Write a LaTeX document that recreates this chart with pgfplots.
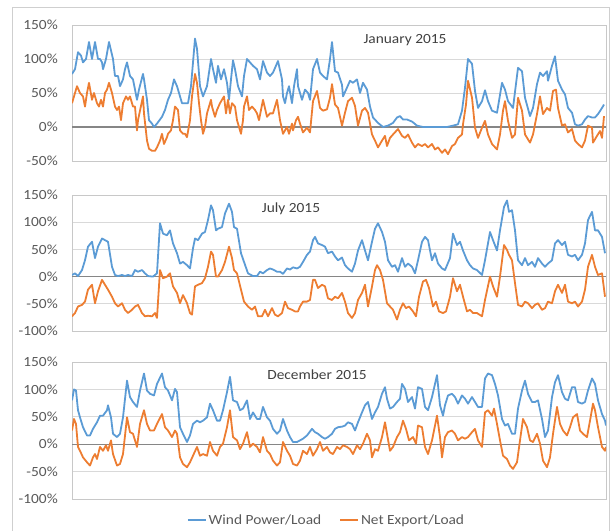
\documentclass[border=0pt]{standalone}
\usepackage{fontspec}
\setmainfont{Carlito}[FakeStretch=1.1]
\usepackage{pgfplots}
\pgfplotsset{compat=1.18}
\definecolor{wblue}{HTML}{5B9BD5}
\definecolor{norange}{HTML}{ED7D31}
\definecolor{tickgray}{HTML}{595959}
\definecolor{gridgray}{HTML}{D9D9D9}
\definecolor{framegray}{HTML}{CFCFCF}
\definecolor{bordergray}{HTML}{C8C8C8}
\definecolor{zerogray}{HTML}{868686}
\definecolor{titlegray}{HTML}{404040}
\pgfplotsset{
  panel/.style={
    scale only axis, width=534bp,
    xmin=72, xmax=606,
    xtick=\empty,
    ymajorgrids, grid style={gridgray, line width=0.9bp},
    axis line style={bordergray, line width=0.9bp},
    major tick length=0pt,
    tick style={draw=none},
    yticklabel style={anchor=east, inner sep=0pt, xshift=-14bp, text=tickgray, font=\fontsize{14bp}{16bp}\selectfont},
    clip=true,
  },
  wline/.style={wblue, line width=1.8bp, line join=round},
  oline/.style={norange, line width=1.8bp, line join=round},
}
\begin{document}
\begin{tikzpicture}[x=1bp,y=1bp]
\useasboundingbox (0bp,0bp) rectangle (612bp,531bp);
\draw[framegray, line width=1bp] (12bp,0bp) -- (12bp,523bp) -- (609bp,523bp) -- (609bp,0bp);

% ---------- January 2015 ----------
\begin{axis}[panel, at={(72bp,370bp)}, anchor=south west, height=136bp,
  ymin=-50, ymax=150, ytick={-50,0,50,100,150},
  yticklabels={-50\%,0\%,50\%,100\%,150\%}]
\addplot[zerogray, line width=1.2bp] coordinates {(72,0) (606,0)};
\addplot[wline] coordinates {
(72,78)(75,85)(78,110)(81,105)(83,95)(86,100)(89,125)(92,100)(95,125)(98,100)(100,100)(102,95)(103,85)(106,100)(109,125)(113,100)(115,75)(118,75)(120,60)(123,70)(125,85)(127,95)(130,75)(133,70)(137,40)(139,55)(143,78)(144,70)(147,40)(149,10)(152,5)(154,0)(157,5)(162,15)(165,25)(168,40)(171,50)(174,70)(177,60)(179,50)(182,35)(185,35)(188,35)(191,60)(195,130)(197,115)(200,60)(203,45)(207,60)(211,100)(213,85)(216,65)(218,90)(221,70)(224,85)(227,65)(229,40)(231,70)(233,98)(235,85)(238,60)(242,45)(244,75)(247,100)(250,95)(253,90)(257,85)(260,70)(263,97)(267,80)(270,75)(273,80)(278,97)(282,70)(283,45)(285,35)(287,50)(289,60)(292,35)(294,60)(297,85)(298,60)(302,40)(305,55)(308,50)(310,40)(313,85)(317,100)(320,80)(323,75)(327,70)(330,100)(332,125)(335,82)(338,80)(342,62)(343,45)(347,58)(350,68)(353,65)(357,70)(360,50)(363,65)(367,55)(370,30)(373,14)(378,6)(383,0)(388,2)(393,6)(397,14)(400,16)(403,11)(407,11)(412,8)(417,2)(423,0)(433,0)(440,0)(447,0)(453,2)(458,4)(462,24)(465,58)(468,100)(472,93)(475,53)(478,28)(482,38)(485,54)(488,38)(492,24)(497,21)(502,65)(505,55)(508,38)(513,28)(518,87)(522,82)(525,43)(530,16)(533,28)(537,63)(540,80)(543,75)(547,82)(548,68)(552,90)(555,104)(558,68)(562,55)(565,48)(568,28)(572,21)(575,4)(578,2)(582,4)(585,11)(588,16)(592,14)(595,14)(598,19)(602,28)(604,33)
};
\addplot[oline] coordinates {
(72,35)(77,60)(80,50)(83,45)(85,30)(87,50)(89,65)(92,40)(94,50)(97,35)(99,30)(101,40)(103,30)(105,50)(107,55)(109,65)(112,50)(115,30)(117,25)(119,30)(121,10)(123,35)(126,45)(128,40)(130,45)(133,30)(135,30)(137,-5)(138,10)(143,45)(144,20)(147,-20)(149,-32)(152,-35)(155,-35)(157,-30)(160,-20)(162,-10)(164,-25)(167,-15)(168,-10)(171,-5)(173,10)(175,30)(178,25)(180,-5)(183,-10)(185,-10)(187,-15)(190,10)(192,45)(195,78)(197,65)(199,35)(201,10)(203,-10)(205,0)(207,20)(211,40)(212,30)(215,15)(217,25)(220,35)(224,45)(226,20)(228,40)(230,20)(232,35)(235,30)(237,10)(241,-10)(243,10)(244,30)(247,45)(249,25)(252,30)(255,25)(257,20)(259,10)(263,40)(267,15)(270,20)(273,20)(277,40)(280,10)(283,-10)(285,-5)(287,0)(289,-10)(292,5)(293,-5)(296,10)(298,15)(300,5)(303,-8)(307,-1)(310,-8)(313,38)(317,53)(320,28)(323,24)(327,26)(330,43)(332,63)(335,33)(338,28)(342,2)(345,21)(348,38)(352,43)(355,31)(358,2)(362,24)(365,28)(368,21)(372,-11)(375,-20)(378,-30)(382,-20)(385,-13)(387,-28)(390,-16)(393,-11)(398,-3)(402,-13)(405,-16)(408,-11)(412,-23)(415,-30)(418,-25)(422,-28)(425,-25)(428,-30)(432,-25)(435,-33)(438,-30)(442,-38)(445,-33)(448,-40)(452,-28)(455,-25)(458,-16)(462,-11)(463,4)(466,33)(468,68)(472,43)(475,-1)(478,-16)(482,-1)(485,9)(488,-11)(492,-25)(497,-33)(500,-11)(503,24)(505,38)(508,9)(512,-16)(515,-11)(518,43)(522,24)(525,-11)(530,-23)(533,-11)(537,19)(540,45)(543,19)(547,28)(550,24)(553,53)(556,55)(558,28)(562,2)(565,4)(568,-8)(572,-3)(575,-20)(578,-25)(582,-30)(585,-20)(588,2)(592,-1)(593,-23)(597,-13)(600,-6)(602,-16)(604,16)
};
\end{axis}
\node[text=titlegray, font=\fontsize{14bp}{16bp}\selectfont] at (405bp,491bp) {January 2015};

% ---------- July 2015 ----------
\begin{axis}[panel, at={(72bp,200bp)}, anchor=south west, height=136bp,
  ymin=-100, ymax=150, ytick={-100,-50,0,50,100,150},
  yticklabels={-100\%,-50\%,0\%,50\%,100\%,150\%}]
\addplot[zerogray, line width=1.2bp] coordinates {(72,0) (606,0)};
\addplot[wline] coordinates {
(72,3)(75,6)(78,1)(82,12)(85,30)(88,55)(92,64)(95,34)(98,55)(102,70)(105,67)(108,64)(112,18)(115,3)(118,1)(122,3)(125,1)(128,3)(132,1)(135,12)(138,9)(142,12)(145,6)(148,1)(153,0)(157,6)(160,98)(163,79)(167,76)(170,85)(173,61)(177,43)(180,24)(183,27)(187,21)(190,15)(193,52)(195,70)(198,67)(202,79)(205,82)(208,104)(211,131)(213,122)(216,85)(218,88)(222,91)(225,116)(229,134)(232,119)(234,91)(237,88)(241,43)(244,27)(248,6)(253,1)(257,1)(260,9)(263,6)(267,12)(270,15)(273,13)(277,9)(280,9)(283,5)(287,15)(290,13)(293,17)(297,15)(300,18)(303,27)(307,40)(310,46)(313,67)(315,73)(318,61)(322,58)(325,55)(328,43)(332,46)(335,37)(338,30)(342,35)(345,21)(348,15)(352,9)(355,24)(358,48)(362,67)(365,48)(368,30)(372,64)(375,88)(378,98)(382,82)(385,64)(388,30)(392,18)(395,21)(398,9)(402,34)(405,18)(408,24)(412,18)(415,6)(418,30)(422,64)(425,73)(428,67)(432,30)(435,43)(438,24)(442,15)(445,12)(450,34)(453,79)(457,58)(460,64)(463,48)(467,30)(470,21)(473,15)(477,12)(482,3)(485,30)(490,82)(493,67)(497,48)(500,85)(504,128)(507,140)(509,119)(512,122)(515,85)(518,30)(522,21)(525,34)(528,21)(532,27)(535,18)(538,34)(542,24)(545,18)(548,24)(552,30)(555,61)(558,67)(562,58)(565,64)(568,40)(572,37)(575,40)(578,30)(582,40)(585,61)(588,104)(592,119)(595,85)(598,85)(602,73)(605,43)
};
\addplot[oline] coordinates {
(72,-73)(75,-67)(78,-55)(82,-52)(85,-46)(88,-24)(92,-15)(95,-49)(98,-27)(102,-6)(105,-15)(108,-24)(112,-37)(115,-49)(118,-55)(122,-49)(125,-61)(128,-67)(132,-61)(135,-55)(138,-52)(142,-67)(145,-73)(148,-72)(152,-73)(155,-67)(157,-76)(160,12)(163,-3)(167,0)(170,6)(173,-18)(177,-30)(180,-49)(183,-34)(187,-49)(190,-67)(192,-70)(195,-18)(198,-15)(202,-12)(205,-3)(208,18)(211,46)(213,40)(216,0)(218,0)(222,12)(225,27)(229,55)(232,34)(234,12)(237,6)(241,-24)(244,-46)(248,-55)(252,-61)(255,-55)(258,-73)(262,-73)(265,-61)(268,-73)(272,-58)(275,-70)(278,-73)(282,-67)(285,-46)(288,-58)(292,-61)(295,-64)(298,-64)(300,-55)(303,-46)(307,-46)(310,-43)(313,-6)(315,-6)(318,-21)(322,-15)(325,-18)(328,-40)(332,-43)(335,-37)(338,-40)(342,-30)(345,-46)(348,-67)(352,-76)(355,-67)(358,-43)(362,-30)(365,-15)(368,-55)(372,-18)(375,12)(377,21)(380,12)(383,-6)(387,-49)(390,-55)(393,-61)(397,-79)(400,-61)(403,-49)(406,-58)(409,-55)(413,-64)(416,-73)(419,-37)(423,-9)(426,-6)(429,-21)(433,-55)(436,-46)(439,-64)(443,-67)(446,-64)(450,-37)(453,-3)(457,-27)(460,-15)(463,-37)(467,-64)(470,-61)(473,-67)(477,-67)(482,-73)(485,-43)(490,0)(493,-18)(497,-37)(500,0)(504,58)(507,49)(509,40)(512,30)(515,-12)(518,-52)(522,-55)(525,-46)(528,-49)(532,-58)(535,-52)(538,-49)(542,-61)(545,-58)(548,-46)(552,-49)(555,-27)(558,-15)(562,-30)(565,-15)(568,-46)(572,-49)(575,-46)(578,-55)(582,-46)(585,-24)(588,18)(592,40)(595,18)(598,3)(602,6)(605,-37)
};
\end{axis}
\node[text=titlegray, font=\fontsize{14bp}{16bp}\selectfont] at (291bp,322bp) {July 2015};

% ---------- December 2015 ----------
\begin{axis}[panel, at={(72bp,32bp)}, anchor=south west, height=137bp,
  ymin=-100, ymax=150, ytick={-100,-50,0,50,100,150},
  yticklabels={-100\%,-50\%,0\%,50\%,100\%,150\%},
  legend columns=2,
  legend style={at={(0.4766,-0.153)}, anchor=center, draw=none, fill=none,
    font=\fontsize{14bp}{16bp}\selectfont, text=tickgray,
    /tikz/every even column/.append style={column sep=16bp},
    inner sep=0pt, row sep=0pt},
  legend image code/.code={\draw[#1] (0bp,0bp) -- (18bp,0bp);}]
\addplot[zerogray, line width=1.2bp, forget plot] coordinates {(72,0) (606,0)};
\addplot[wline] coordinates {
(72,80)(74,100)(76,98)(78,62)(80,49)(83,31)(87,16)(90,16)(93,28)(97,40)(100,52)(103,52)(107,62)(108,71)(111,49)(113,19)(117,13)(120,19)(123,49)(127,116)(130,86)(133,77)(137,68)(140,98)(144,129)(147,98)(150,92)(154,89)(157,110)(162,129)(165,104)(168,98)(172,80)(175,101)(177,95)(180,31)(183,19)(187,4)(190,16)(193,37)(197,43)(200,40)(203,43)(207,49)(210,74)(213,62)(217,43)(220,43)(223,62)(227,95)(230,123)(233,80)(237,77)(240,62)(243,65)(247,80)(250,46)(253,58)(257,46)(260,46)(263,68)(267,49)(270,43)(273,28)(277,19)(280,25)(283,46)(287,25)(290,13)(293,4)(297,4)(300,7)(303,10)(307,16)(312,28)(315,22)(318,19)(322,13)(325,10)(328,13)(332,19)(335,28)(338,31)(342,32)(345,34)(348,40)(352,37)(355,25)(358,40)(362,58)(365,71)(368,77)(372,46)(375,58)(378,68)(382,92)(385,104)(387,83)(390,65)(393,68)(397,77)(400,83)(402,110)(405,101)(408,77)(412,86)(415,65)(418,104)(422,101)(425,68)(428,62)(432,86)(435,110)(437,126)(440,71)(443,52)(445,71)(448,89)(452,92)(455,86)(458,74)(462,89)(465,83)(468,74)(472,86)(475,77)(478,68)(482,68)(485,120)(488,129)(492,126)(495,110)(498,89)(502,46)(505,34)(508,37)(512,19)(515,19)(518,65)(522,98)(525,116)(528,92)(532,77)(535,77)(538,80)(542,46)(545,13)(548,25)(552,86)(555,113)(558,126)(562,95)(565,83)(568,80)(572,104)(575,104)(578,77)(582,74)(585,77)(588,98)(592,120)(595,110)(598,80)(602,55)(605,43)(606,34)
};
\addlegendentry{Wind Power/Load}
\addplot[oline] coordinates {
(72,25)(74,46)(76,37)(78,-5)(80,-12)(83,-24)(87,-33)(90,-39)(93,-24)(95,-18)(97,-27)(100,-5)(103,-12)(106,-2)(108,-12)(111,7)(113,-18)(117,-39)(120,-36)(123,-18)(127,49)(130,22)(133,19)(137,-5)(140,37)(144,62)(147,37)(150,25)(154,25)(157,37)(162,55)(165,31)(168,25)(172,13)(175,25)(177,19)(180,-24)(183,-36)(187,-42)(190,-33)(193,-21)(197,-5)(200,-21)(203,-18)(207,-21)(210,4)(213,-12)(217,-21)(220,-5)(223,1)(227,31)(230,62)(233,13)(237,7)(240,-9)(243,1)(247,22)(250,-5)(253,1)(257,-5)(260,-15)(263,13)(267,-12)(270,-18)(273,-30)(277,-39)(280,-33)(283,4)(287,-12)(290,-21)(293,-36)(297,-39)(300,-30)(303,-12)(307,-18)(310,-5)(313,-21)(317,-9)(320,4)(323,-12)(327,-5)(330,-15)(333,-18)(337,-5)(340,-9)(343,-2)(347,-5)(350,-9)(353,-18)(357,-2)(360,-9)(363,1)(367,19)(370,7)(372,-24)(375,-9)(378,-12)(382,13)(385,40)(387,19)(390,-12)(393,-5)(397,13)(400,22)(403,43)(406,28)(409,7)(413,13)(416,1)(418,34)(422,31)(425,-5)(428,-18)(432,7)(435,34)(437,52)(440,13)(442,-24)(445,13)(448,22)(452,25)(455,19)(458,7)(462,13)(465,10)(468,13)(472,22)(475,28)(478,7)(482,-5)(485,58)(488,62)(492,52)(494,65)(497,37)(500,7)(503,-21)(507,-27)(510,-39)(513,-45)(517,-33)(520,7)(523,46)(527,31)(530,7)(533,4)(537,19)(540,1)(543,-30)(547,-42)(550,-24)(553,19)(557,68)(560,37)(563,25)(567,16)(570,31)(573,49)(577,55)(580,25)(583,19)(587,13)(590,43)(593,74)(595,62)(598,31)(602,-5)(605,-12)(606,-5)
};
\addlegendentry{Net Export/Load}
\end{axis}
\node[text=titlegray, font=\fontsize{14bp}{16bp}\selectfont] at (317bp,156bp) {December 2015};
\end{tikzpicture}
\end{document}
